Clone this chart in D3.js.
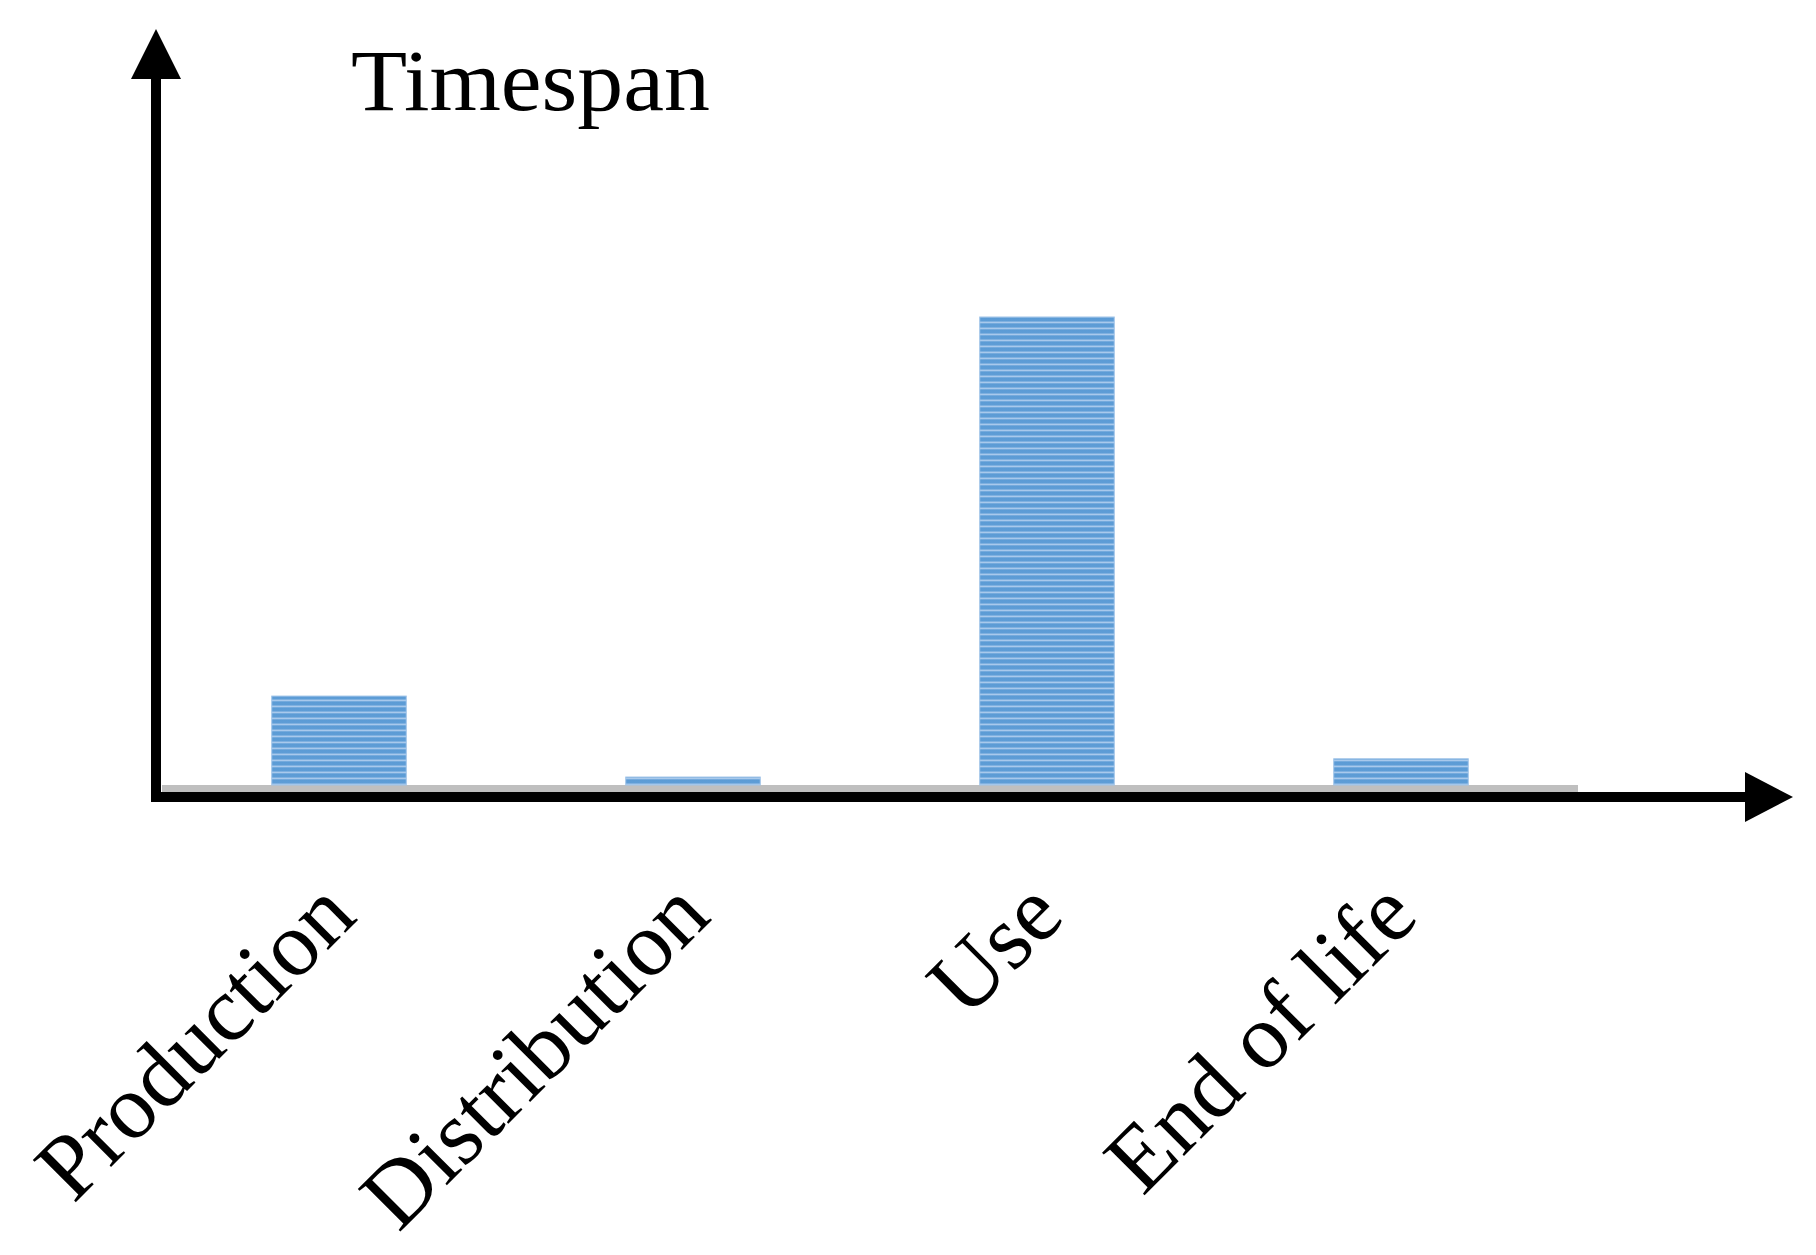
<!DOCTYPE html>
<html>
<head>
<meta charset="utf-8">
<script src="https://cdn.jsdelivr.net/npm/d3@7"></script>
<style>
  body { margin: 0; background: #fff; }
  text { font-family: "Liberation Serif", "DejaVu Serif", serif; fill: #000; }
</style>
</head>
<body>
<div id="chart"></div>
<script>
const categories = ["Production", "Distribution", "Use", "End of life"]
const values = [19.0, 1.7, 100, 5.6]   // relative timespan, Use = 100

const W = 1816, H = 1255
const BASE_Y = 785          // top of grey baseline, bars sit on it
const AXIS_X = 156, AXIS_Y = 797

const svg = d3.select("#chart").append("svg")
  .attr("width", W)
  .attr("height", H)

// striped fill like the reference bars
const defs = svg.append("defs")
const grad = defs.append("linearGradient")
  .attr("id", "stripeGrad")
  .attr("x1", 0).attr("y1", 0).attr("x2", 0).attr("y2", 1)
grad.append("stop").attr("offset", "0%").attr("stop-color", "#5b9bd5")
grad.append("stop").attr("offset", "45%").attr("stop-color", "#5e9dd6")
grad.append("stop").attr("offset", "75%").attr("stop-color", "#a8c9ec")
grad.append("stop").attr("offset", "100%").attr("stop-color", "#5b9bd5")

const pat = defs.append("pattern")
  .attr("id", "stripes")
  .attr("patternUnits", "userSpaceOnUse")
  .attr("width", 20).attr("height", 6)
pat.append("rect")
  .attr("width", 20).attr("height", 6)
  .attr("fill", "url(#stripeGrad)")

const x = d3.scaleBand()
  .domain(categories)
  .range([162, 1578])
  .paddingInner(0.62)
  .paddingOuter(0.31)

const y = d3.scaleLinear()
  .domain([0, 100])
  .range([BASE_Y, 317])

// grey baseline
svg.append("rect")
  .attr("x", 162)
  .attr("y", BASE_Y)
  .attr("width", 1578 - 162)
  .attr("height", 7)
  .attr("fill", "#bfbfbf")

// bars
svg.selectAll("rect.bar")
  .data(values)
  .enter().append("rect")
  .attr("class", "bar")
  .attr("x", function(d, i) { return x(categories[i]) })
  .attr("y", function(d) { return y(d) })
  .attr("width", x.bandwidth())
  .attr("height", function(d) { return BASE_Y - y(d) })
  .attr("fill", "url(#stripes)")
  .attr("stroke", "#9fc3e8")
  .attr("stroke-width", 1)

// axes with arrow heads
svg.append("line")
  .attr("x1", AXIS_X).attr("y1", AXIS_Y + 5)
  .attr("x2", AXIS_X).attr("y2", 75)
  .attr("stroke", "#000").attr("stroke-width", 10)
svg.append("path")
  .attr("d", `M${AXIS_X},29 L${AXIS_X - 25},79 L${AXIS_X + 25},79 Z`)
  .attr("fill", "#000")

svg.append("line")
  .attr("x1", AXIS_X - 5).attr("y1", AXIS_Y)
  .attr("x2", 1750).attr("y2", AXIS_Y)
  .attr("stroke", "#000").attr("stroke-width", 10)
svg.append("path")
  .attr("d", `M1793,${AXIS_Y} L1745,${AXIS_Y - 25} L1745,${AXIS_Y + 25} Z`)
  .attr("fill", "#000")

// axis title
svg.append("text")
  .attr("x", 351)
  .attr("y", 110)
  .attr("font-size", "86px")
  .attr("textLength", 359)
  .attr("lengthAdjust", "spacingAndGlyphs")
  .text("Timespan")

// rotated category labels
svg.selectAll("text.cat")
  .data(categories)
  .enter().append("text")
  .attr("class", "cat")
  .attr("font-size", "92px")
  .attr("text-anchor", "end")
  .attr("transform", function(d) {
    return `translate(${x(d) + x.bandwidth() / 2 + 20}, 919) rotate(-45)`
  })
  .text(function(d) { return d })
</script>
</body>
</html>
